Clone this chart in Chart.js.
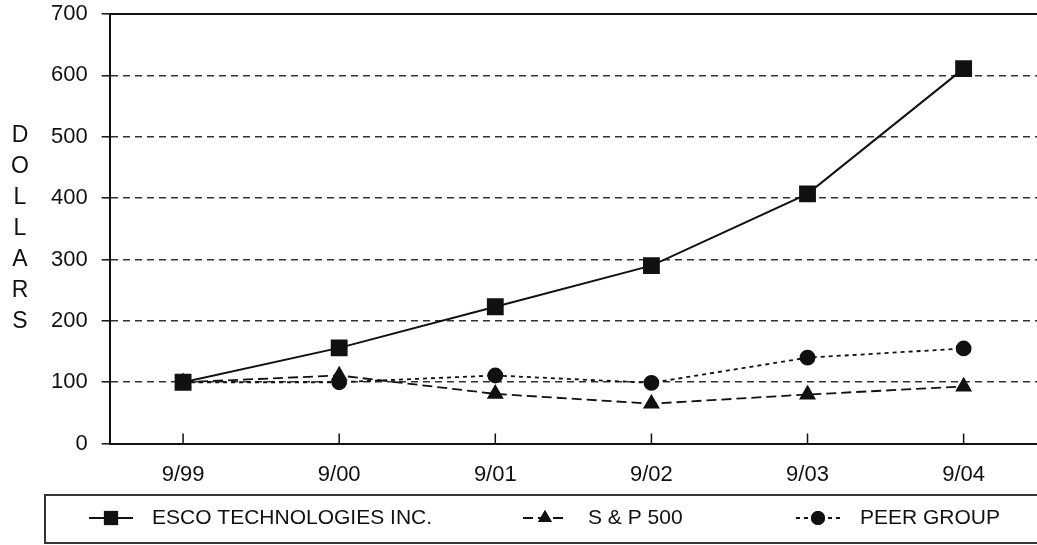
<!DOCTYPE html>
<html>
<head>
<meta charset="utf-8">
<script src="https://cdn.jsdelivr.net/npm/chart.js@4.4.1/dist/chart.umd.min.js"></script>
<style>
  html, body { margin: 0; padding: 0; background: #fff; }
  #wrap { width: 1037px; height: 545px; position: relative; }
</style>
</head>
<body>
<div id="wrap"><canvas id="myChart"></canvas></div>
<script>
var lata = ['9/99', '9/00', '9/01', '9/02', '9/03', '9/04'];
var esco = [100, 156, 223, 290, 407, 611];
var sp500 = [100, 111, 81, 65, 80, 93];
var peer = [100, 100, 111, 99, 140, 155];
var yTicks = [0, 100, 200, 300, 400, 500, 600, 700];
var tytulOsi = 'DOLLARS';

var czcionka = '"Liberation Sans", Arial, Helvetica, sans-serif';
var kolor = '#111';

function punkty(arr) {
    return arr.map(function (v, i) { return {x: i, y: v}; });
}

// litery "DOLLARS" jedna pod druga
var tytulPlugin = {
    id: 'tytulPionowy',
    afterDraw: function (chart) {
        var ctx = chart.ctx;
        var y = chart.scales.y;
        var mid = (y.getPixelForValue(300) + y.getPixelForValue(400)) / 2;
        var krok = 31;
        var start = mid - krok * (tytulOsi.length - 1) / 2;
        ctx.save();
        ctx.fillStyle = kolor;
        ctx.font = '23px ' + czcionka;
        ctx.textAlign = 'center';
        ctx.textBaseline = 'middle';
        for (var i = 0; i < tytulOsi.length; i++) {
            ctx.fillText(tytulOsi[i], 20, start + i * krok);
        }
        ctx.restore();
    }
};

// gorna linia ramki i kreski na osi x do gory
var ramkaPlugin = {
    id: 'ramka',
    afterDatasetsDraw: function (chart) {
        var ctx = chart.ctx;
        var xs = chart.scales.x;
        var a = chart.chartArea;
        ctx.save();
        ctx.strokeStyle = kolor;
        ctx.lineWidth = 2;
        ctx.beginPath();
        ctx.moveTo(a.left, a.top);
        ctx.lineTo(chart.width, a.top);
        ctx.stroke();
        ctx.lineWidth = 1.5;
        ctx.beginPath();
        for (var i = 0; i < lata.length; i++) {
            var px = xs.getPixelForValue(i);
            ctx.moveTo(px, a.bottom);
            ctx.lineTo(px, a.bottom - 10);
        }
        ctx.stroke();
        ctx.restore();
    }
};

// legenda w ramce na dole
var legendaPlugin = {
    id: 'legendaRamka',
    afterDraw: function (chart) {
        var ctx = chart.ctx;
        var top = 495, bottom = 543, left = 45, right = chart.width + 5;
        var cy = (top + bottom) / 2 - 1;
        ctx.save();
        ctx.strokeStyle = '#333';
        ctx.lineWidth = 2;
        ctx.strokeRect(left, top, right - left, bottom - top);
        var pozycje = [{x: 89, tx: 152}, {x: 523, tx: 588}, {x: 796, tx: 860}];
        chart.data.datasets.forEach(function (ds, i) {
            var p = pozycje[i];
            ctx.strokeStyle = kolor;
            ctx.lineWidth = 2;
            ctx.setLineDash(ds.borderDash || []);
            ctx.beginPath();
            ctx.moveTo(p.x, cy);
            ctx.lineTo(p.x + 44, cy);
            ctx.stroke();
            ctx.setLineDash([]);
            Chart.helpers.drawPoint(ctx, {
                pointStyle: ds.pointStyle,
                radius: ds.legendRadius,
                borderWidth: 0
            }, p.x + 22, cy);
            ctx.fillStyle = kolor;
            ctx.fill();
            ctx.font = '21px ' + czcionka;
            ctx.textAlign = 'left';
            ctx.textBaseline = 'middle';
            ctx.fillText(ds.label, p.tx, cy);
        });
        ctx.restore();
    }
};

var ctx = document.getElementById('myChart');

var myChart = new Chart(ctx, {
    type: 'line',
    data: {
        datasets: [{
            label: 'ESCO TECHNOLOGIES INC.',
            data: punkty(esco),
            borderColor: kolor,
            backgroundColor: kolor,
            borderWidth: 2,
            pointStyle: 'rect',
            pointRadius: 10.5,
            legendRadius: 10
        }, {
            label: 'S & P 500',
            data: punkty(sp500),
            borderColor: kolor,
            backgroundColor: kolor,
            borderWidth: 1.8,
            borderDash: [10, 5],
            pointStyle: 'triangle',
            pointRadius: 8,
            legendRadius: 8
        }, {
            label: 'PEER GROUP',
            data: punkty(peer),
            borderColor: kolor,
            backgroundColor: kolor,
            borderWidth: 1.8,
            borderDash: [4, 4],
            pointStyle: 'circle',
            pointRadius: 7,
            legendRadius: 7
        }]
    },
    options: {
        responsive: true,
        maintainAspectRatio: false,
        animation: false,
        layout: {
            autoPadding: false,
            padding: {top: 14, left: 37, right: 0, bottom: 39}
        },
        elements: {
            line: {tension: 0},
            point: {borderWidth: 0, hoverRadius: 0}
        },
        scales: {
            x: {
                type: 'linear',
                min: -0.47,
                max: 5.47,
                afterBuildTicks: function (s) {
                    s.ticks = lata.map(function (c, i) { return {value: i}; });
                },
                ticks: {
                    color: kolor,
                    padding: 18,
                    font: {family: czcionka, size: 22},
                    callback: function (v) { return lata[v]; }
                },
                grid: {display: false, drawTicks: false},
                border: {display: true, color: kolor, width: 2}
            },
            y: {
                min: 0,
                max: 700,
                afterBuildTicks: function (s) {
                    s.ticks = yTicks.map(function (v) { return {value: v}; });
                },
                afterFit: function (s) {
                    s.paddingTop = 0;
                },
                ticks: {
                    color: kolor,
                    padding: 14,
                    font: {family: czcionka, size: 22}
                },
                grid: {
                    color: function (c) {
                        var v = c.tick ? c.tick.value : 0;
                        return (v === 0 || v === 700) ? 'rgba(0,0,0,0)' : '#333';
                    },
                    lineWidth: 1.6,
                    tickColor: kolor,
                    tickLength: 8,
                    tickWidth: 1.5
                },
                border: {display: true, color: kolor, width: 2, dash: [7, 5]}
            }
        },
        plugins: {
            legend: {display: false},
            tooltip: {enabled: false}
        }
    },
    plugins: [tytulPlugin, ramkaPlugin, legendaPlugin]
});
</script>
</body>
</html>
